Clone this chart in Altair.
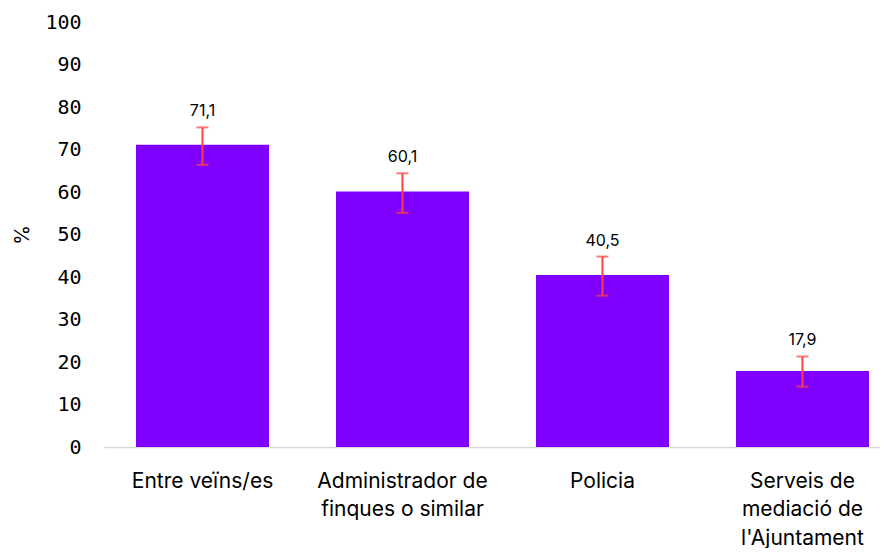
import altair as alt
import pandas as pd

categories = ["Entre veïns/es", "Administrador de\nfinques o similar", "Policia", "Serveis de\nmediació de\nl'Ajuntament"]
values = [71.1, 60.1, 40.5, 17.9]
lower = [66.4, 55.1, 35.6, 14.2]
upper = [75.2, 64.4, 44.8, 21.3]
labels = ["71,1", "60,1", "40,5", "17,9"]

df = pd.DataFrame({"cat": categories, "val": values, "lo": lower, "hi": upper, "lab": labels})

FONT = "Inter"
MONO = "DejaVu Sans Mono"
x = alt.X("cat:N", sort=categories, title=None,
          scale=alt.Scale(paddingInner=0.335, paddingOuter=0.1075, align=0.744),
          axis=alt.Axis(labelAngle=0, labelExpr="split(datum.value, '\\n')", labelFont=FONT,
                        labelFontSize=21, labelColor="#000000", labelPadding=23, labelLineHeight=28.5,
                        ticks=False, domainColor="#d9d9d9", domainWidth=1.5, labelLimit=300))
y = alt.Y("val:Q", title="%", scale=alt.Scale(domain=[0, 100]),
          axis=alt.Axis(values=list(range(0, 101, 10)), grid=False, ticks=False, domain=False,
                        labelFont=MONO, labelFontSize=20, labelColor="#000000", labelPadding=23,
                        titleFont=FONT, titleFontSize=20, titleFontWeight="normal", titleColor="#000000",
                        titlePadding=12))

base = alt.Chart(df)
bars = base.mark_bar(color="#8000FF").encode(x=x, y=y)
rule = base.mark_rule(color="#FF4040", strokeWidth=2).encode(x=x, y="lo:Q", y2="hi:Q")
cap_hi = base.mark_tick(color="#FF4040", thickness=2, size=12, orient="horizontal").encode(x=x, y="hi:Q")
cap_lo = base.mark_tick(color="#FF4040", thickness=2, size=12, orient="horizontal").encode(x=x, y="lo:Q")
text = base.mark_text(font=FONT, fontSize=16, color="#000000", baseline="middle", dy=-16).encode(
    x=x, y="hi:Q", text="lab:N")

chart = (bars + rule + cap_hi + cap_lo + text).properties(
    width=776, height=425, padding={"left": 4, "top": 4, "right": 0, "bottom": 0},
    background="white"
).configure_view(strokeWidth=0)

chart.save("out.html", embed_options={"renderer": "svg", "actions": False})
